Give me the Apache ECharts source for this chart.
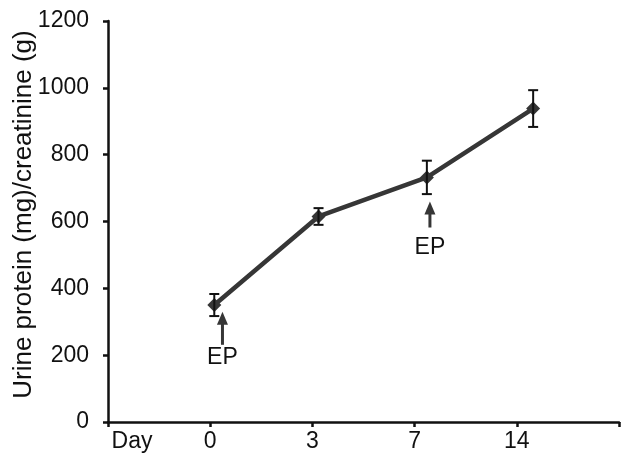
<!DOCTYPE html>
<html>
<head>
<meta charset="utf-8">
<script src="https://cdn.jsdelivr.net/npm/echarts@6/dist/echarts.min.js"></script>
<style>html,body{margin:0;padding:0;background:#fff}#c{width:643px;height:457px}</style>
</head>
<body>
<div id="c"></div>
<script>
// Data
const xLabels = ['Day', '0', '3', '7', '14', ''];
const dayPos = [1.04, 2.06, 3.12, 4.16];      // where the points sit on the day axis
const meanVals = [350, 615, 732, 938];
const errVals = [33, 25, 50, 55];
const yTicks = [0, 200, 400, 600, 800, 1000, 1200];
// EP annotations (arrow x, arrow bottom, arrow tip, label y) in data units
const epX = [1.12, 3.15];
const epFrom = [231, 582];
const epTo = [330, 660];
const epLabelY = [192, 522];

const FONT = 'Liberation Sans, Arial, sans-serif';
const chart = echarts.init(document.getElementById('c'), null, {renderer: 'canvas'});

const lineData = dayPos.map((x, i) => [x, meanVals[i]]);
const errData = dayPos.map((x, i) => [x, meanVals[i] - errVals[i], meanVals[i] + errVals[i]]);
const epData = epX.map((x, i) => [x, epFrom[i], epTo[i], epLabelY[i]]);

chart.setOption({
  animation: false,
  backgroundColor: '#fff',
  grid: {left: 108, right: 24, top: 21, bottom: 35, containLabel: false, outerBoundsMode: 'none'},
  xAxis: {
    type: 'value', min: 0, max: 5, interval: 1,
    axisLine: {show: true, lineStyle: {color: '#111', width: 2.5}},
    axisTick: {show: true, length: 5, lineStyle: {color: '#111', width: 2.5}},
    splitLine: {show: false},
    axisLabel: {
      margin: 8, color: '#111', fontFamily: FONT, fontSize: 23,
      showMaxLabel: true, showMinLabel: true,
      formatter: v => {
        const i = Math.round(v);
        if (i === 0) return '{day|' + xLabels[0] + '}';
        return xLabels[i] || '';
      },
      rich: {day: {fontFamily: FONT, fontSize: 23, color: '#111', padding: [0, 0, 0, 48]}}
    }
  },
  yAxis: {
    type: 'value', min: yTicks[0], max: yTicks[yTicks.length - 1], interval: 200,
    name: 'Urine protein (mg)/creatinine (g)',
    nameLocation: 'middle', nameGap: 71, nameRotate: 90, nameMoveOverlap: false,
    nameTextStyle: {fontFamily: FONT, fontSize: 26, color: '#111', padding: [0, 0, 0, 14]},
    axisLine: {show: true, lineStyle: {color: '#111', width: 2.5}},
    axisTick: {show: true, length: 5, lineStyle: {color: '#111', width: 2.5}},
    splitLine: {show: false},
    axisLabel: {margin: 19, color: '#111', fontFamily: FONT, fontSize: 23, formatter: v => String(v)}
  },
  series: [
    {
      type: 'line', data: lineData,
      symbol: 'diamond', symbolSize: 14,
      lineStyle: {color: '#363636', width: 4.5},
      itemStyle: {color: '#363636'},
      z: 3
    },
    {
      type: 'custom', data: errData, z: 4,
      renderItem: (params, api) => {
        const x = api.value(0);
        const lo = api.coord([x, api.value(1)]);
        const hi = api.coord([x, api.value(2)]);
        const cap = 5;
        const st = {stroke: '#111', lineWidth: 2};
        return {type: 'group', children: [
          {type: 'line', shape: {x1: lo[0], y1: lo[1], x2: hi[0], y2: hi[1]}, style: st},
          {type: 'line', shape: {x1: lo[0] - cap, y1: lo[1], x2: lo[0] + cap, y2: lo[1]}, style: st},
          {type: 'line', shape: {x1: hi[0] - cap, y1: hi[1], x2: hi[0] + cap, y2: hi[1]}, style: st}
        ]};
      }
    },
    {
      type: 'custom', data: epData, z: 5,
      renderItem: (params, api) => {
        const x = api.value(0);
        const a = api.coord([x, api.value(1)]);
        const b = api.coord([x, api.value(2)]);
        const t = api.coord([x, api.value(3)]);
        const hw = 5.5, hh = 13;
        return {type: 'group', children: [
          {type: 'line', shape: {x1: a[0], y1: a[1], x2: b[0], y2: b[1] + hh - 2},
            style: {stroke: '#363636', lineWidth: 3}},
          {type: 'polygon', shape: {points: [[b[0], b[1]], [b[0] - hw, b[1] + hh], [b[0] + hw, b[1] + hh]]},
            style: {fill: '#363636'}},
          {type: 'text', x: t[0], y: t[1],
            style: {text: 'EP', fill: '#111', font: '23px ' + FONT, align: 'center', verticalAlign: 'middle'}}
        ]};
      }
    }
  ]
});
</script>
</body>
</html>
